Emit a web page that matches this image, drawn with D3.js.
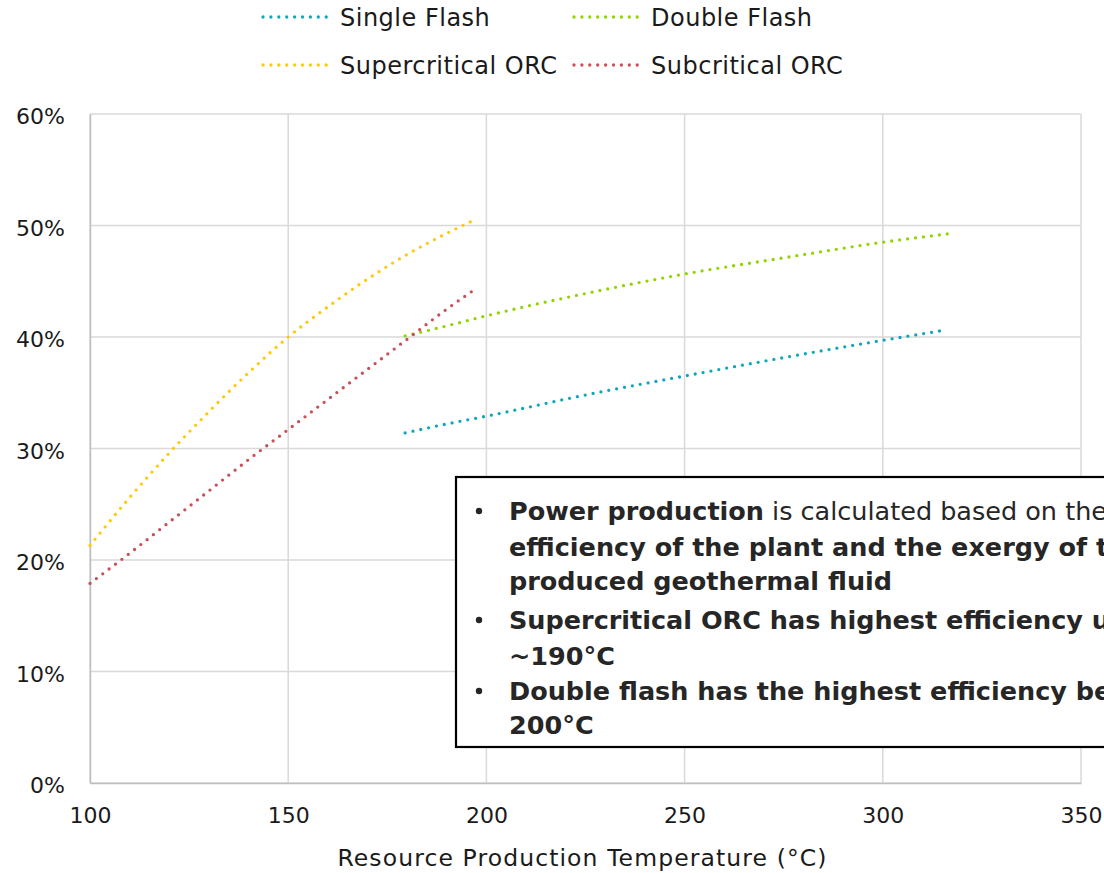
<!DOCTYPE html>
<html>
<head>
<meta charset="utf-8">
<script src="https://cdn.jsdelivr.net/npm/d3@7"></script>
<style>
  html, body { margin: 0; padding: 0; background: #fff; }
  svg { display: block; font-family: "DejaVu Sans", sans-serif; }
</style>
</head>
<body>
<svg id="chart" width="1104" height="873"></svg>
<script>
// Plant efficiency vs. resource production temperature
const orcTemps        = [100, 110, 120, 130, 140, 150, 160, 170, 180, 190, 197];
const supercriticalORC = [0.213, 0.256, 0.296, 0.333, 0.368, 0.400, 0.427, 0.452, 0.474, 0.493, 0.505];
const subcriticalTemps = [100, 110, 120, 130, 140, 150, 160, 170, 180, 190, 197.2];
const subcriticalORC   = [0.179, 0.206, 0.234, 0.262, 0.290, 0.317, 0.344, 0.371, 0.398, 0.425, 0.443];
const doubleFlashTemps = [179.5, 190, 200, 225, 250, 275, 300, 317.6];
const doubleFlash      = [0.401, 0.410, 0.419, 0.439, 0.4565, 0.471, 0.485, 0.493];
const singleFlashTemps = [179.5, 190, 200, 225, 250, 275, 300, 315.4];
const singleFlash      = [0.314, 0.322, 0.329, 0.348, 0.365, 0.3815, 0.397, 0.406];

const xTicks = [100, 150, 200, 250, 300, 350];
const yTicks = [0, 0.1, 0.2, 0.3, 0.4, 0.5, 0.6];

const seriesNames  = ["Single Flash", "Double Flash", "Supercritical ORC", "Subcritical ORC"];
const seriesColors = ["#0FA6BA", "#92D400", "#FFC90A", "#C9505A"];

const notes = [
  [{t: "Power production", b: true}, {t: " is calculated based on the", b: false}],
  [{t: "efficiency of the plant and the exergy of the", b: true}],
  [{t: "produced geothermal fluid", b: true}],
  [{t: "Supercritical ORC has highest efficiency up to", b: true}],
  [{t: "~190°C", b: true}],
  [{t: "Double flash has the highest efficiency beyond", b: true}],
  [{t: "200°C", b: true}]
];
const noteBullets = [0, 3, 5];

const series = [
  {name: seriesNames[0], color: seriesColors[0], xs: singleFlashTemps, ys: singleFlash},
  {name: seriesNames[1], color: seriesColors[1], xs: doubleFlashTemps, ys: doubleFlash},
  {name: seriesNames[2], color: seriesColors[2], xs: orcTemps, ys: supercriticalORC},
  {name: seriesNames[3], color: seriesColors[3], xs: subcriticalTemps, ys: subcriticalORC}
];

const svg = d3.select("#chart");
const W = 1104, H = 873;
const m = {left: 90, right: 23, top: 114, bottom: 90};

const x = d3.scaleLinear().domain([100, 350]).range([m.left, W - m.right]);
const y = d3.scaleLinear().domain([0, 0.6]).range([H - m.bottom, m.top]);

const tickFont = 22;
const textColor = "#1a1a1a";

// gridlines
const grid = svg.append("g");
grid.selectAll("line.h").data(yTicks).join("line")
  .attr("x1", x(100)).attr("x2", x(350))
  .attr("y1", d => y(d)).attr("y2", d => y(d))
  .attr("stroke", "#D9D9D9").attr("stroke-width", 1.5);
grid.selectAll("line.v").data(xTicks).join("line")
  .attr("x1", d => x(d)).attr("x2", d => x(d))
  .attr("y1", y(0)).attr("y2", y(0.6))
  .attr("stroke", "#D9D9D9").attr("stroke-width", 1.5);

// axes
const xAxis = svg.append("g").attr("transform", `translate(0,${y(0)})`)
  .call(d3.axisBottom(x).tickValues(xTicks).tickSize(0).tickPadding(20).tickFormat(d3.format("d")));
const yAxis = svg.append("g").attr("transform", `translate(${x(100)},0)`)
  .call(d3.axisLeft(y).tickValues(yTicks).tickSize(0).tickPadding(25).tickFormat(d3.format(".0%")));
[xAxis, yAxis].forEach(a => {
  a.select(".domain").attr("stroke", "#BFBFBF").attr("stroke-width", 1.5);
  a.selectAll("text").attr("font-size", tickFont).attr("fill", textColor)
    .attr("font-family", "DejaVu Sans, sans-serif");
});
yAxis.selectAll(".tick text").attr("dy", "0.45em");
xAxis.selectAll(".tick text").attr("dy", "0.9em");

svg.append("text")
  .attr("x", (x(100) + x(350)) / 2 - 3).attr("y", 866)
  .attr("text-anchor", "middle").attr("font-size", 23.5).attr("letter-spacing", 1.1)
  .attr("fill", textColor)
  .text("Resource Production Temperature (°C)");

// series lines
const line = d3.line().curve(d3.curveMonotoneX);
svg.append("g").selectAll("path").data(series).join("path")
  .attr("d", s => line(s.xs.map((v, i) => [x(v), y(s.ys[i])])))
  .attr("fill", "none").attr("stroke", s => s.color)
  .attr("stroke-width", 3.3).attr("stroke-linecap", "round")
  .attr("stroke-dasharray", "0 8");

// legend
const legendPos = [[262, 17], [573, 17], [262, 65], [573, 65]];
const lg = svg.append("g").selectAll("g").data(series).join("g")
  .attr("transform", (s, i) => `translate(${legendPos[i][0]},${legendPos[i][1]})`);
lg.append("line").attr("x1", 1).attr("x2", 72).attr("y1", 0).attr("y2", 0)
  .attr("stroke", s => s.color).attr("stroke-width", 3.3)
  .attr("stroke-linecap", "round").attr("stroke-dasharray", "0 7.9");
lg.append("text").attr("x", 78).attr("y", 0).attr("dy", "0.36em")
  .attr("font-size", 24).attr("letter-spacing", 0.5).attr("fill", textColor).text(s => s.name);

// annotation box
const box = svg.append("g");
box.append("rect").attr("x", 456).attr("y", 477).attr("width", 700).attr("height", 270)
  .attr("fill", "#fff").attr("stroke", "#000").attr("stroke-width", 2.2);
const baselines = [520, 556, 590, 629, 665, 700, 734];
const noteText = box.append("g").attr("font-size", 25.5).attr("fill", "#262626");
noteText.selectAll("text.line").data(notes).join("text")
  .attr("x", 509).attr("y", (d, i) => baselines[i])
  .selectAll("tspan").data(d => d).join("tspan")
  .attr("font-weight", d => d.b ? "bold" : "normal").text(d => d.t);
noteText.selectAll("circle").data(noteBullets).join("circle")
  .attr("cx", 479).attr("cy", i => baselines[i] - 9).attr("r", 3.2).attr("fill", "#262626");
</script>
</body>
</html>
